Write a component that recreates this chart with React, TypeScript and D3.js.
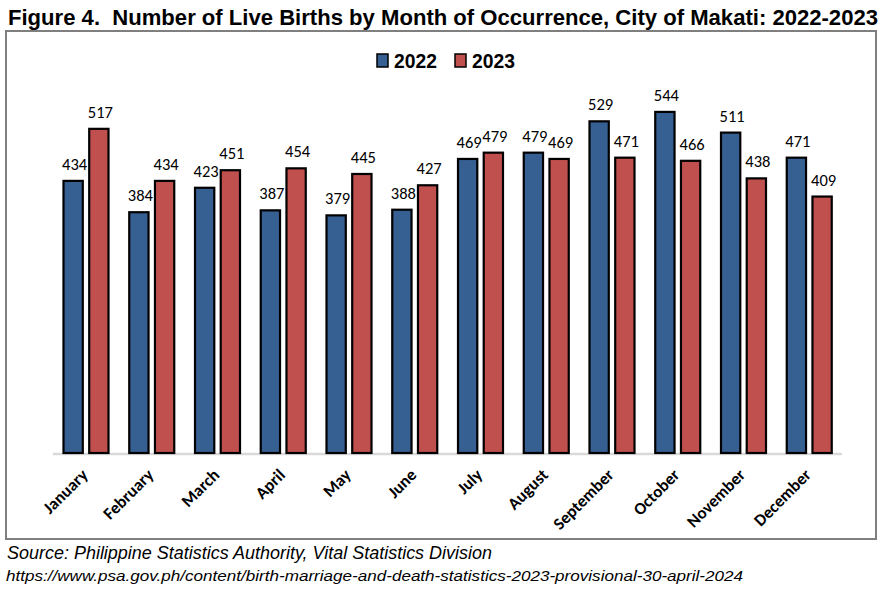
import React from "react";
import * as d3 from "d3";

const months = ["January","February","March","April","May","June","July","August","September","October","November","December"];
const seriesNames = ["2022","2023"];
const values2022 = [434,384,423,387,379,388,469,479,529,544,511,471];
const values2023 = [517,434,451,454,445,427,479,469,471,466,438,409];
const colors = ["#365f92","#c0504d"];
const titleText = "Figure 4.  Number of Live Births by Month of Occurrence, City of Makati: 2022-2023";
const sourceText = "Source: Philippine Statistics Authority, Vital Statistics Division";
const urlText = "https://www.psa.gov.ph/content/birth-marriage-and-death-statistics-2023-provisional-30-april-2024";

export default function App() {
  const W = 886, H = 591;
  const baseY = 453;
  const x0 = d3.scaleBand<string>().domain(months).range([53, 842]).paddingInner(0).paddingOuter(0);
  const x1 = d3.scaleBand<string>().domain(seriesNames).range([10.5, 55.5]).paddingInner(0.25).paddingOuter(0);
  const y = d3.scaleLinear().domain([0, 600]).range([baseY, baseY - 0.627 * 600]);
  const series = [values2022, values2023];
  const narrow = "'Liberation Sans Narrow', 'Liberation Sans', Arial, sans-serif";
  const calibri = "Carlito, Lato, 'Open Sans', sans-serif";
  return (
    <svg width={W} height={H} style={{ position: "absolute", left: 0, top: 0, background: "#fff" }}>
      <rect x={0} y={0} width={W} height={H} fill="#fff" />
      <text x={8} y={24.5} fontFamily="'Liberation Sans', Arial, sans-serif" fontWeight="bold" fontSize={21.5} textLength={870} lengthAdjust="spacingAndGlyphs" fill="#000" style={{ whiteSpace: "pre" }}>{titleText}</text>
      <rect x={6} y={31} width={870} height={508} fill="#fff" stroke="#7f7f7f" strokeWidth={2} />
      {/* legend */}
      {seriesNames.map((s, i) => {
        const lx = [377, 455][i];
        return (
          <g key={s}>
            <rect x={lx} y={54} width={11} height={13} fill={colors[i]} stroke="#000" strokeWidth={1.5} />
            <text x={lx + 17} y={68} fontFamily={narrow} fontWeight="bold" fontSize={20} textLength={43} lengthAdjust="spacingAndGlyphs" fill="#000">{s}</text>
          </g>
        );
      })}
      {/* baseline */}
      <line x1={53} x2={842} y1={454} y2={454} stroke="#d9d9d9" strokeWidth={2.5} />
      {months.map((m, mi) => (
        <g key={m} transform={`translate(${x0(m)},0)`}>
          {seriesNames.map((s, si) => {
            const v = series[si][mi];
            const bx = x1(s)!;
            const bw = x1.bandwidth();
            return (
              <g key={s}>
                <rect x={bx} y={y(v)} width={bw} height={baseY - y(v)} fill={colors[si]} stroke="#000" strokeWidth={2.2} />
                <text x={bx + bw / 2 + 1.5} y={y(v) - 11} textAnchor="middle" fontFamily={calibri} fontSize={16.5} fill="#000">{v}</text>
              </g>
            );
          })}
          <text transform={`translate(${x0.bandwidth() / 2 + 3},${476}) rotate(-45)`} textAnchor="end" fontFamily={calibri} fontWeight="bold" fontSize={17} fill="#000">{m}</text>
        </g>
      ))}
      <text x={7} y={559} fontFamily={narrow} fontStyle="italic" fontSize={18} textLength={485} lengthAdjust="spacingAndGlyphs" fill="#000">{sourceText}</text>
      <text x={6} y={581} fontFamily={narrow} fontStyle="italic" fontSize={15} textLength={737} lengthAdjust="spacingAndGlyphs" fill="#000">{urlText}</text>
    </svg>
  );
}
